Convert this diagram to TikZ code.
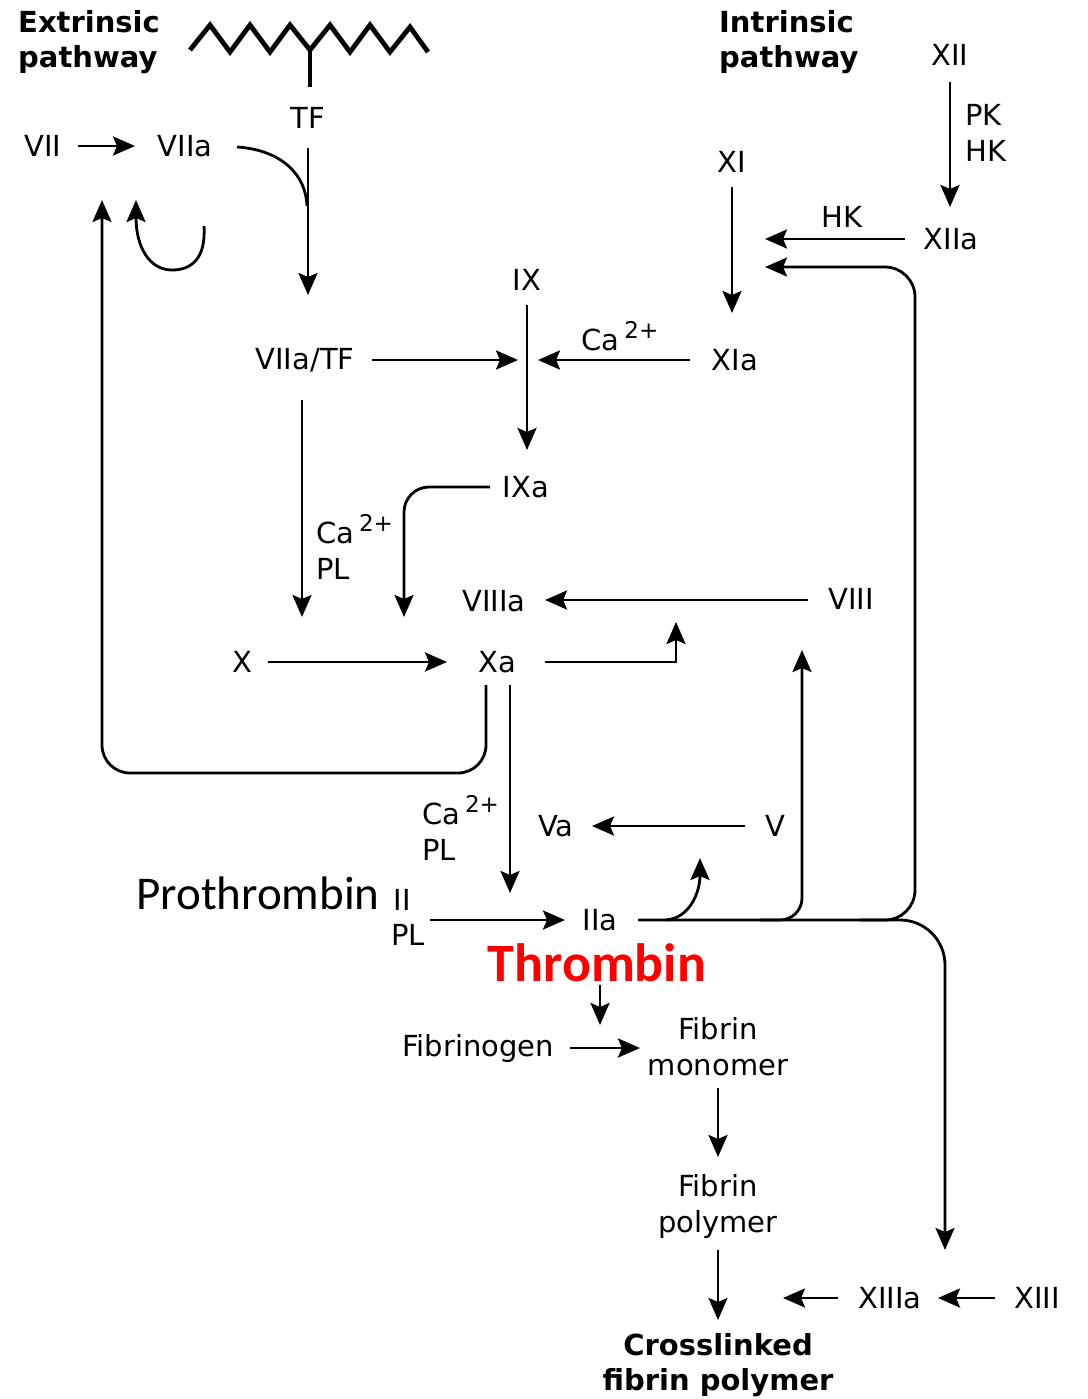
\documentclass[tikz,border=0pt]{standalone}
\usepackage{fontspec}
\setmainfont{DejaVu Sans}
\newfontfamily\carlfont{Carlito}
\usetikzlibrary{arrows.meta}
\newcommand{\capl}{Ca\,\raisebox{0.42em}{\fontsize{23}{23}\selectfont 2+}}
\begin{document}
\begin{tikzpicture}[x=1pt,y=-1pt,
  lbl/.style={inner sep=0pt, font=\fontsize{29}{36}\selectfont},
  ttl/.style={inner sep=0pt, font=\bfseries\fontsize{29}{35}\selectfont, align=left},
  arr/.style={line width=2.8pt, -{Stealth[length=22pt,width=19pt,inset=4pt]}},
  ln/.style={line width=2.8pt},
]
\useasboundingbox (0,0) rectangle (1087,1399);
% titles
\node[ttl, anchor=west] (ext) at (18,42) {Extrinsic\\pathway};
\node[ttl, anchor=west] (int) at (719,42) {Intrinsic\\pathway};
% membrane zigzag
\draw[line width=4.8pt, line join=miter] (190,50) -- (210,25) -- (230,52) -- (250,25) -- (270,52) -- (290,25) -- (310,50) -- (330,25) -- (350,52) -- (370,25) -- (390,52) -- (410,27) -- (428,52);
\coordinate (stem) at (310,50);
\draw[line width=4.8pt] (stem) -- (310,87);
% nodes
\node[lbl] (tf) at (308,118) {TF};
\node[lbl] (vii) at (43,146) {VII};
\node[lbl] (viia) at (185,146) {VIIa};
\node[lbl] (xii) at (950,55) {XII};
\node[lbl, align=left, anchor=west] (pkhk) at (965,133) {PK\\HK};
\node[lbl] (xi) at (732,162) {XI};
\node[lbl] (xiia) at (951,239) {XIIa};
\node[lbl] (hk) at (842,217) {HK};
\node[lbl] (ix) at (527,280) {IX};
\node[lbl] (viiatf) at (305,360) {VIIa/TF};
\node[lbl] (ca1) at (620,336) {\capl};
\node[lbl] (xia) at (735,360) {XIa};
\node[lbl] (ixa) at (526,487) {IXa};
\node[lbl, align=left, anchor=west] (capl1) at (316,547) {\capl\\PL};
\node[lbl] (viiia) at (494,601) {VIIIa};
\node[lbl] (viii) at (851,599) {VIII};
\node[lbl] (x) at (242,662) {X};
\node[lbl] (xa) at (497,662) {Xa};
\node[lbl, align=left, anchor=west] (capl2) at (422,828) {\capl\\PL};
\node[lbl] (va) at (556,826) {Va};
\node[lbl] (v) at (775,826) {V};
\node[inner sep=0pt, font=\carlfont\fontsize{47}{50}\selectfont] (proth) at (258,893) {Prothrombin};
\node[lbl] (ii) at (402,900) {II};
\node[lbl] (pl3) at (408,935) {PL};
\node[lbl] (iia) at (600,920) {IIa};
\node[inner sep=0pt, text=red, font=\carlfont\bfseries\fontsize{54}{56}\selectfont] (thr) at (597,963) {Thrombin};
\node[lbl] (fbg) at (478,1048) {Fibrinogen};
\node[lbl, align=center] (fmono) at (718,1047) {Fibrin\\monomer};
\node[lbl, align=center] (fpoly) at (718,1206) {Fibrin\\polymer};
\node[ttl, align=center] (cross) at (718,1365) {Crosslinked\\fibrin polymer};
\node[lbl] (xiiia) at (890,1298) {XIIIa};
\node[lbl] (xiii) at (1037,1298) {XIII};
% connectors
\draw[arr] (78,146) -- (135,146);
\draw[arr] (308,148) -- (308,295);
\draw[ln] (237,147) .. controls (282,150) and (306,175) .. (307,206);
\draw[arr] (204,226) .. controls (206,258) and (192,270) .. (172,270) .. controls (150,270) and (136,248) .. (136,200);
\draw[arr, rounded corners=28pt] (486,685) -- (486,773) -- (102,773) -- (102,200);
\draw[arr] (950,82) -- (950,207);
\draw[arr] (732,187) -- (732,313);
\draw[arr] (905,239) -- (765,239);
\draw[arr, rounded corners=30pt] (860,920) -- (915,920) -- (915,267) -- (765,267);
\draw[arr, rounded corners=45pt] (638,920) -- (945,920) -- (945,1250);
\draw[arr, rounded corners=22pt] (760,920) -- (802,920) -- (802,650);
\draw[arr] (666,920) .. controls (690,918) and (700,892) .. (700,858);
\draw[arr] (527,305) -- (527,450);
\draw[arr] (372,360) -- (518,360);
\draw[arr] (690,360) -- (538,360);
\draw[arr, rounded corners=25pt] (490,487) -- (404,487) -- (404,617);
\draw[arr] (302,400) -- (302,617);
\draw[arr] (808,600) -- (545,600);
\draw[arr] (268,662) -- (447,662);
\draw[arr] (545,662) -- (676,662) -- (676,622);
\draw[arr] (510,685) -- (510,893);
\draw[arr] (745,826) -- (592,826);
\draw[arr] (430,920) -- (565,920);
\draw[arr] (600,985) -- (600,1025);
\draw[arr] (570,1048) -- (640,1048);
\draw[arr] (718,1088) -- (718,1157);
\draw[arr] (718,1250) -- (718,1320);
\draw[arr] (838,1298) -- (783,1298);
\draw[arr] (995,1298) -- (938,1298);
\end{tikzpicture}
\end{document}
